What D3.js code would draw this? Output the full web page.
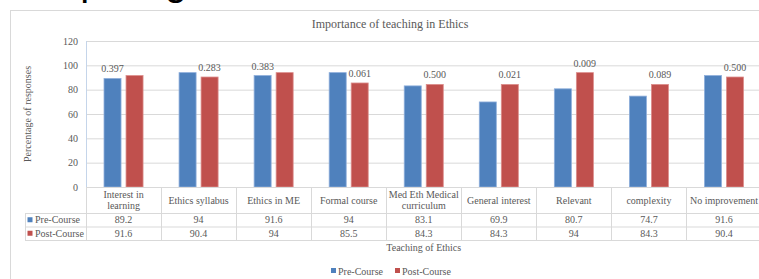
<!DOCTYPE html>
<html>
<head>
<meta charset="utf-8">
<script src="https://cdn.jsdelivr.net/npm/d3@7/dist/d3.min.js"></script>
<style>
  body { margin: 0; background: #fff; }
  svg { display: block; }
  text { font-family: "Liberation Serif", "Times New Roman", serif; fill: #595959; }
</style>
</head>
<body>
<svg width="759" height="279"></svg>
<script>
const categories = ['Interest in learning', 'Ethics syllabus', 'Ethics in ME', 'Formal course',
  'Med Eth Medical curriculum', 'General interest', 'Relevant', 'complexity', 'No improvement'];
const seriesNames = ['Pre-Course', 'Post-Course'];
const preCourse = [89.2, 94, 91.6, 94, 83.1, 69.9, 80.7, 74.7, 91.6];
const postCourse = [91.6, 90.4, 94, 85.5, 84.3, 84.3, 94, 84.3, 90.4];
const pValues = ['0.397', '0.283', '0.383', '0.061', '0.500', '0.021', '0.009', '0.089', '0.500'];
const pLabelOn = ['Pre-Course', 'Post-Course', 'Pre-Course', 'Post-Course', 'Post-Course',
  'Post-Course', 'Post-Course', 'Post-Course', 'Post-Course'];
const yTicks = [0, 20, 40, 60, 80, 100, 120];

const colors = { 'Pre-Course': '#4f81bd', 'Post-Course': '#c0504d' };
const gridColor = '#d9d9d9';

const svg = d3.select('svg');

// heading of the page above, mostly outside the picture
svg.append('text')
  .attr('x', -2).attr('y', -5)
  .style('font-family', '"Liberation Sans", Arial, sans-serif')
  .style('font-size', '40px')
  .style('fill', '#000')
  .text('Sample figure');

// chart area border
svg.append('rect')
  .attr('x', 10.5).attr('y', 10.5)
  .attr('width', 800).attr('height', 300)
  .attr('fill', '#fff')
  .attr('stroke', gridColor);

const plotLeft = 86, plotRight = 761.5, plotTop = 41, plotBottom = 187;
const rowHeader = 213, rowPre = 226.5, rowPost = 240;
const legendLeft = 25;

const x = d3.scaleBand().domain(categories).range([plotLeft, plotRight]);
const xSub = d3.scaleBand().domain(seriesNames).range([0, x.bandwidth()])
  .paddingInner(0.227).paddingOuter(0.818);
const y = d3.scaleLinear().domain([0, 120]).range([plotBottom, plotTop]);

svg.append('text')
  .attr('x', 390).attr('y', 28)
  .attr('text-anchor', 'middle')
  .style('font-size', '12px')
  .text('Importance of teaching in Ethics');

// gridlines + y axis
const yAxis = d3.axisLeft(y).tickValues(yTicks).tickSize(-(plotRight - plotLeft)).tickPadding(8);
const yAxisG = svg.append('g')
  .attr('transform', `translate(${plotLeft},0)`)
  .call(yAxis);
yAxisG.select('.domain').remove();
yAxisG.selectAll('.tick line').attr('stroke', gridColor).attr('stroke-width', 1)
  .filter(d => d === 0).remove();
yAxisG.selectAll('.tick text')
  .style('font-family', '"Liberation Serif", "Times New Roman", serif')
  .style('font-size', '10px').attr('fill', '#595959');

svg.append('text')
  .attr('transform', `translate(31,${(plotTop + plotBottom) / 2}) rotate(-90)`)
  .attr('text-anchor', 'middle')
  .style('font-size', '10px')
  .text('Percentage of responses');

// bars
const rows = categories.map((c, i) => ({ cat: c, 'Pre-Course': preCourse[i], 'Post-Course': postCourse[i], p: pValues[i], on: pLabelOn[i] }));
const groups = svg.append('g').selectAll('g').data(rows).join('g')
  .attr('transform', d => `translate(${x(d.cat)},0)`);
groups.selectAll('rect')
  .data(d => seriesNames.map(s => ({ s, v: d[s] })))
  .join('rect')
  .attr('x', d => xSub(d.s))
  .attr('y', d => y(d.v))
  .attr('width', xSub.bandwidth())
  .attr('height', d => y(0) - y(d.v))
  .attr('fill', d => colors[d.s])
  .attr('stroke', d => d.s === 'Pre-Course' ? '#8eaedb' : '#dc8e8c')
  .attr('stroke-width', 0.8);

groups.append('text')
  .attr('x', d => xSub(d.on) + xSub.bandwidth() / 2)
  .attr('y', d => y(d[d.on]) - 6)
  .attr('text-anchor', 'middle')
  .style('font-size', '10px')
  .text(d => d.p);

// data table
const table = svg.append('g').attr('stroke', gridColor).attr('stroke-width', 1);
table.append('line').attr('x1', plotLeft).attr('x2', 800).attr('y1', plotBottom + 0.5).attr('y2', plotBottom + 0.5);
[rowHeader, rowPre, rowPost].forEach(yy => {
  table.append('line').attr('x1', legendLeft).attr('x2', 800).attr('y1', yy + 0.5).attr('y2', yy + 0.5);
});
table.append('line').attr('x1', legendLeft + 0.5).attr('x2', legendLeft + 0.5).attr('y1', rowHeader).attr('y2', rowPost);
categories.forEach(c => {
  const xx = Math.round(x(c)) + 0.5;
  table.append('line').attr('x1', xx).attr('x2', xx).attr('y1', plotBottom).attr('y2', rowPost);
});
svg.append('line')
  .attr('x1', plotLeft + 0.5).attr('x2', plotLeft + 0.5)
  .attr('y1', plotTop).attr('y2', plotBottom)
  .attr('stroke', '#c5d5ea');

// category labels with wrapping
const catText = svg.append('g').selectAll('text').data(categories).join('text')
  .attr('text-anchor', 'middle')
  .style('font-size', '10px')
  .attr('x', d => x(d) + x.bandwidth() / 2);
catText.each(function (d) {
  const t = d3.select(this);
  const words = d.split(' ');
  const lines = [];
  let line = [];
  const probe = t.append('tspan');
  words.forEach(w => {
    line.push(w);
    probe.text(line.join(' '));
    if (probe.node().getComputedTextLength() > 73 && line.length > 1) {
      line.pop();
      lines.push(line.join(' '));
      line = [w];
    }
  });
  lines.push(line.join(' '));
  probe.remove();
  const mid = (plotBottom + rowHeader) / 2;
  const lh = 11.5;
  lines.forEach((l, k) => {
    t.append('tspan')
      .attr('x', x(d) + x.bandwidth() / 2)
      .attr('y', mid + (k - (lines.length - 1) / 2) * lh + 3.5)
      .text(l);
  });
});

// value rows
const seriesRows = [
  { name: 'Pre-Course', values: preCourse, top: rowHeader, bottom: rowPre },
  { name: 'Post-Course', values: postCourse, top: rowPre, bottom: rowPost }
];
seriesRows.forEach(r => {
  const cy = (r.top + r.bottom) / 2;
  svg.append('rect')
    .attr('x', legendLeft + 2.5).attr('y', cy - 2.5)
    .attr('width', 5).attr('height', 5)
    .attr('fill', colors[r.name]);
  svg.append('text')
    .attr('x', legendLeft + 10).attr('y', cy + 3.5)
    .style('font-size', '10px')
    .text(r.name);
  svg.append('g').selectAll('text').data(r.values).join('text')
    .attr('x', (d, i) => x(categories[i]) + x.bandwidth() / 2)
    .attr('y', cy + 3.5)
    .attr('text-anchor', 'middle')
    .style('font-size', '10px')
    .text(d => d);
});

svg.append('text')
  .attr('x', (plotLeft + plotRight) / 2).attr('y', 250.5)
  .attr('text-anchor', 'middle')
  .style('font-size', '10px')
  .text('Teaching of Ethics');

// bottom legend
const legend = svg.append('g').attr('transform', 'translate(331,271)');
const legendX = d3.scaleOrdinal().domain(seriesNames).range([0, 64]);
seriesNames.forEach(s => {
  legend.append('rect')
    .attr('x', legendX(s)).attr('y', -3)
    .attr('width', 5).attr('height', 5)
    .attr('fill', colors[s]);
  legend.append('text')
    .attr('x', legendX(s) + 7).attr('y', 3.5)
    .style('font-size', '10px')
    .text(s);
});
</script>
</body>
</html>
